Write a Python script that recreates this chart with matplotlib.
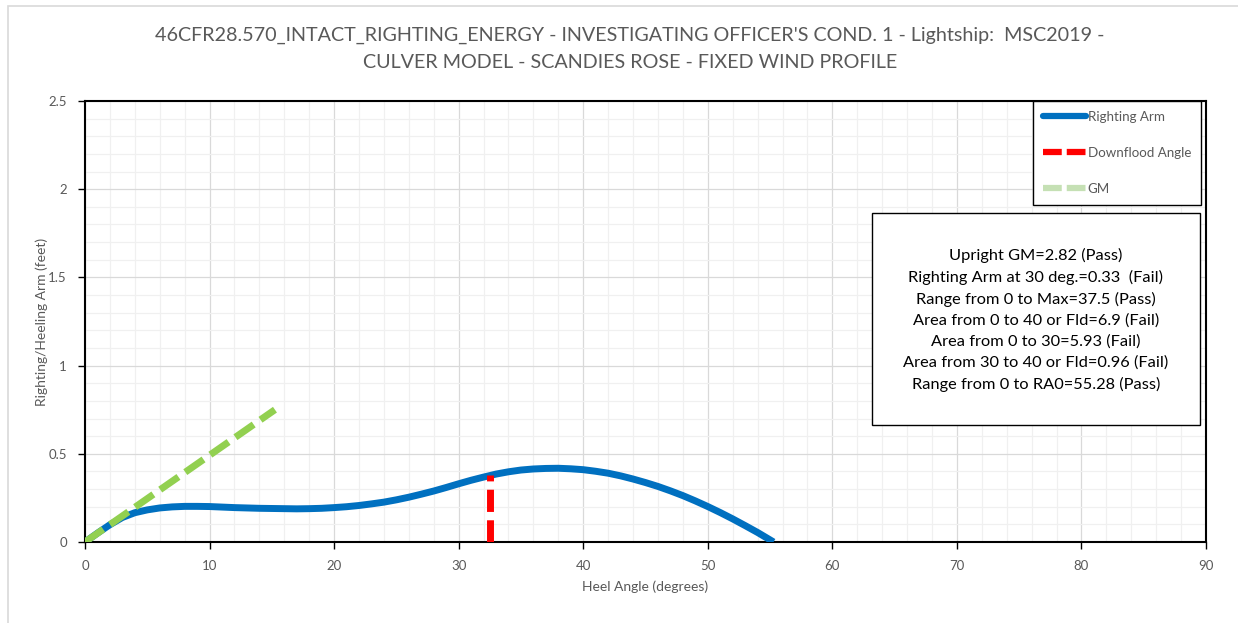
"""Intact righting energy curve - Scandies Rose, investigating officer's cond. 1."""

import matplotlib
matplotlib.use('Agg')
import matplotlib.pyplot as plt
from matplotlib.lines import Line2D
from matplotlib.patches import Rectangle
from matplotlib.ticker import MultipleLocator

plt.rcParams['font.family'] = ['Lato', 'DejaVu Sans']

# Righting arm curve (heel angle in degrees, arm in feet)
heel_deg = [0, 1, 2, 3, 4, 5, 6, 7, 8, 9, 10, 11, 12, 13, 14, 15, 16, 17, 18,
            19, 20, 21, 22, 23, 24, 25, 26, 27, 28, 29, 30, 31, 32, 33, 34, 35,
            36, 37, 38, 39, 40, 41, 42, 43, 44, 45, 46, 47, 48, 49, 50, 51, 52,
            53, 54, 55, 55.28]
righting_arm = [0, 0.05, 0.098, 0.139, 0.166, 0.182, 0.193, 0.199, 0.202,
                0.202, 0.201, 0.198, 0.195, 0.193, 0.191, 0.19, 0.189, 0.188,
                0.189, 0.191, 0.195, 0.2, 0.207, 0.216, 0.226, 0.239, 0.254,
                0.271, 0.289, 0.309, 0.33, 0.35, 0.368, 0.385, 0.398, 0.408,
                0.414, 0.417, 0.418, 0.415, 0.41, 0.401, 0.39, 0.375, 0.357,
                0.337, 0.315, 0.29, 0.263, 0.233, 0.201, 0.167, 0.131, 0.093,
                0.054, 0.012, 0.0]

# Downflood angle marker
flood_x = [32.5, 32.5]
flood_y = [0, 0.38]

# Upright GM line
gm_x = [0, 15.25]
gm_y = [0, 0.75]

title_lines = [
    "46CFR28.570_INTACT_RIGHTING_ENERGY - INVESTIGATING OFFICER'S COND. 1 - Lightship:  MSC2019 -",
    "CULVER MODEL - SCANDIES ROSE - FIXED WIND PROFILE",
]

criteria = [
    "Upright GM=2.82 (Pass)",
    "Righting Arm at 30 deg.=0.33  (Fail)",
    "Range from 0 to Max=37.5 (Pass)",
    "Area from 0 to 40 or Fld=6.9 (Fail)",
    "Area from 0 to 30=5.93 (Fail)",
    "Area from 30 to 40 or Fld=0.96 (Fail)",
    "Range from 0 to RA0=55.28 (Pass)",
]

BLUE = '#0070C0'
RED = '#FF0000'
GREEN = '#92D050'
GM_LEGEND = '#C5E0B4'
GRAY_TEXT = '#595959'

W, H = 1238, 623
fig = plt.figure(figsize=(W / 100, H / 100), dpi=100)
fig.patches.append(Rectangle((8 / W, -0.1), 1.2, 1 - 6 / H + 0.1,
                             transform=fig.transFigure, fill=False,
                             edgecolor='#D9D9D9', linewidth=1.2))

ax = fig.add_axes([85 / W, 1 - 542 / H, (1206 - 85) / W, (542 - 101) / H])

ax.plot(heel_deg, righting_arm, color=BLUE, linewidth=5, solid_capstyle='butt',
        solid_joinstyle='round', zorder=3)
ax.plot(flood_x, flood_y, color=RED, linewidth=5, dashes=(3.2, 1.2), zorder=4)
ax.plot(gm_x, gm_y, color=GREEN, linewidth=5, dashes=(3.2, 1.2), zorder=4)

ax.set_xlim(0, 90)
ax.set_ylim(0, 2.5)
ax.xaxis.set_major_locator(MultipleLocator(10))
ax.xaxis.set_minor_locator(MultipleLocator(2))
ax.yaxis.set_minor_locator(MultipleLocator(0.1))
ax.set_yticks([0, 0.5, 1, 1.5, 2, 2.5], ['0', '0.5', '1', '1.5', '2', '2.5'])
ax.grid(which='major', color='#D9D9D9', linewidth=0.9, zorder=0)
ax.grid(which='minor', color='#F0F0F0', linewidth=0.9, zorder=0)
ax.set_axisbelow(True)
for s in ax.spines.values():
    s.set_color('black')
    s.set_linewidth(1.5)
ax.tick_params(which='major', direction='out', length=5, width=1, color='black',
               labelsize=9.5, labelcolor=GRAY_TEXT, pad=8)
ax.tick_params(which='minor', length=0)

ax.set_xlabel('Heel Angle (degrees)', fontsize=10, color=GRAY_TEXT, labelpad=6)
ax.set_ylabel('Righting/Heeling Arm (feet)', fontsize=10, color=GRAY_TEXT, labelpad=0)

for k, line in enumerate(title_lines):
    fig.text(630 / W, 1 - (35 + 27.5 * k) / H, line, ha='center', va='center',
             fontsize=14.2, color=GRAY_TEXT)

handles = [
    Line2D([], [], color=BLUE, linewidth=4.5, solid_capstyle='round'),
    Line2D([], [], color=RED, linewidth=4.5, dashes=(3.0, 0.8)),
    Line2D([], [], color=GM_LEGEND, linewidth=4.5, dashes=(3.0, 0.8)),
]
leg = ax.legend(handles, ['Righting Arm', 'Downflood Angle', 'GM'],
                loc='upper right', bbox_to_anchor=(1201 / W, 1 - 101 / H),
                bbox_transform=fig.transFigure, fontsize=9.6, labelcolor=GRAY_TEXT,
                frameon=True, fancybox=False, edgecolor='black', framealpha=1,
                handlelength=3.2, handletextpad=0.15, labelspacing=1.8,
                borderpad=0.75, borderaxespad=0)
leg.get_frame().set_linewidth(1.0)

ax.text(((872 + 1200) / 2 - 85) / (1206 - 85), (542 - 320) / (542 - 101),
        '\n'.join(criteria), transform=ax.transAxes, ha='center', va='center',
        fontsize=11.8, color='black', linespacing=1.58, zorder=6)
ax.add_patch(Rectangle(((872 - 85) / (1206 - 85), (542 - 425) / (542 - 101)),
                       (1200 - 872) / (1206 - 85), (425 - 213) / (542 - 101),
                       transform=ax.transAxes, facecolor='white', edgecolor='black',
                       linewidth=1.0, zorder=5))

fig.savefig('out.png', dpi=100)
